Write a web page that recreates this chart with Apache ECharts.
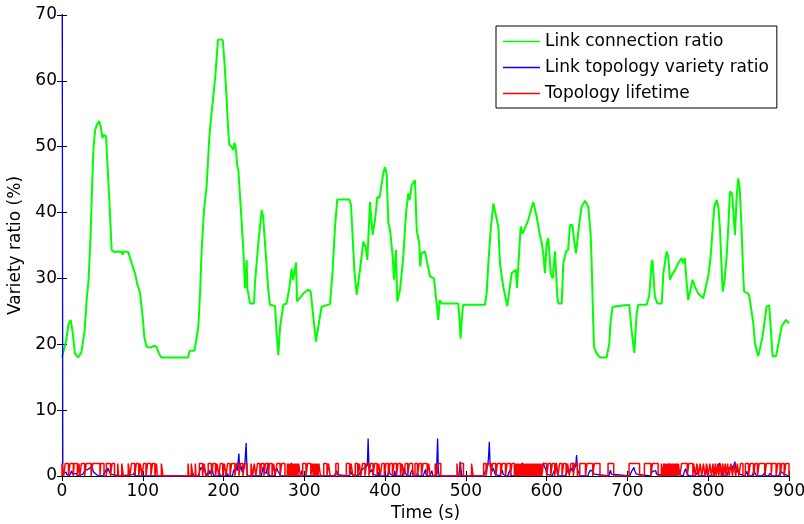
<!DOCTYPE html>
<html>
<head>
<meta charset="utf-8">
<script src="https://cdn.jsdelivr.net/npm/echarts@6/dist/echarts.min.js"></script>
<style>
  html, body { margin: 0; padding: 0; background: #fff; }
  #chart-container { width: 804px; height: 524px; }
</style>
</head>
<body>
<div id="chart-container"></div>
<script>
// [time (s), ratio (%)]
const connectionRatio = [
  [0, 18], [2, 18.2], [5, 20.5], [8, 23], [10.7, 23.7], [13, 22], [16, 18.6], [20, 18], [24, 18.8],
  [28, 22], [30.5, 26.7], [33, 30], [35.5, 36.9], [37, 43], [38.8, 49.5], [41, 52.5], [43, 53.3],
  [46, 53.9], [48, 53], [50, 51.3], [51.5, 51.8], [54.5, 51.6], [56, 48], [58.6, 41.9], [61.5, 34.3],
  [65, 34], [70, 34.1], [74, 34], [75, 33.6], [76, 34.1], [82, 34], [84, 33.8], [87, 32], [90.4, 30.8],
  [93, 29.2], [96.6, 27.8], [100, 24], [102, 21], [104.8, 19.6], [110, 19.5], [114, 19.8], [117, 19.6],
  [120, 18.6], [123, 18], [140, 18], [156, 18], [158, 19], [164, 19], [166, 20.5], [168.8, 22.7],
  [171, 28], [172.9, 34.3], [175.8, 40.4], [179, 43.9], [182.4, 51.5], [185, 55], [187.3, 57.6],
  [190, 61], [193, 66.2], [196, 66.3], [199, 66.2], [201, 63], [203.9, 57.1], [205.5, 53], [207.1, 50.3],
  [210, 50], [212, 49.5], [213.6, 50.6], [215, 50], [217, 47], [218.3, 46.5], [221.2, 40.9],
  [224.5, 34.3], [226.6, 28.5], [227.5, 30], [228.6, 32.8], [229.5, 28.5], [232.7, 26.2], [237.7, 26.2],
  [238.9, 29.3], [243, 35.3], [247.2, 40.4], [249, 39.4], [251.3, 35.3], [255.4, 28.2], [257.5, 26],
  [263.7, 25.8], [265.7, 21.7], [267.8, 18.4], [270, 22.7], [274, 26], [278, 26.2], [281.4, 28.5],
  [284.3, 31.5], [286, 29.8], [288, 31], [289.7, 32.4], [291, 26.5], [293, 26.2], [298.7, 27.7],
  [305, 28.3], [307.9, 28], [311.1, 24.2], [314.4, 20.4], [317.3, 22.7], [321.4, 25.7], [323.5, 26],
  [331.8, 26.1], [335.1, 31.3], [338, 37.9], [340.8, 42], [355.7, 42], [357.8, 41.1], [359.8, 36.3],
  [361.9, 31.3], [364.8, 27.5], [368.9, 31.3], [373, 35.6], [376, 34.8], [378, 32.8], [381.3, 41.6],
  [384.6, 36.6], [387.5, 38.9], [390.4, 42.4], [393, 42.2], [397.8, 46], [399.9, 46.9], [402, 45.8],
  [404, 38.4], [406.1, 37.4], [409.4, 33.3], [411, 29.8], [413.5, 34.3], [415, 26.5], [418.4, 28.2],
  [422.5, 33.3], [425.9, 39.9], [428.7, 42.9], [430.5, 41.9], [432.9, 44.2], [437, 44.9], [439.1, 37.4],
  [442.3, 35.3], [443.5, 31.8], [445, 33.8], [449.4, 34.1], [452.2, 32.3], [455.6, 30.3], [460.5, 30],
  [463.8, 26.2], [465.9, 23.7], [467.5, 26.7], [470, 26.2], [490.6, 26.2], [492, 24], [493.5, 20.9],
  [495, 24], [496.5, 26], [523.6, 26], [525.7, 27.7], [527.8, 32.3], [530.7, 37.4], [534, 41.4],
  [536, 41.2], [540.1, 37.9], [542.2, 32.3], [546.3, 28.7], [551.3, 25.8], [554.4, 28.7], [556.7, 30.8],
  [562, 31.3], [563.2, 28.5], [566.1, 34.3], [567.8, 37.9], [570, 36.8], [573, 37.6], [577.3, 38.9],
  [583.4, 41.6], [587.6, 39.4], [591.7, 36.5], [594, 35.3], [595.8, 33.8], [597.9, 30.8], [600, 35.3],
  [602, 36.1], [605, 30.8], [607.5, 30], [610.3, 34.1], [612, 34.1], [613.2, 27.2], [614.5, 26.2],
  [618.6, 26.2], [620.6, 32.3], [624, 34.1], [626.5, 34.3], [628.9, 38.1], [631.8, 38.1], [634, 35.8],
  [636.3, 33.8], [638, 33.8], [640.4, 38.4], [643.3, 40.9], [647.4, 41.8], [651.5, 40.9], [654.4, 36.8],
  [655.7, 32.3], [657, 26.2], [658.6, 19.6], [661.9, 18.6], [666, 18], [674.2, 18], [677.5, 20.1],
  [679, 23.2], [681.6, 25.7], [684, 26], [702.3, 26], [705.2, 22], [708.5, 18.7], [711.4, 24.7],
  [713.5, 26], [723.8, 26], [727, 27.4], [729.9, 32.3], [731, 32.8], [732, 30.8], [734, 27.2],
  [737, 26.2], [742.4, 26.2], [744.5, 30.8], [748.6, 34.1], [750.5, 33.3], [752.7, 29.8], [755, 30.5],
  [758.9, 31.3], [762.9, 32.3], [767.1, 33.1], [769, 32.3], [771, 33.1], [773.3, 29.3], [775.3, 26.7],
  [777.5, 26.5], [780.7, 29.8], [782.3, 29.5], [783.8, 28.7], [787.7, 27.7], [793.8, 27], [796, 27.2],
  [800, 30.3], [803, 33.3], [805.4, 37.4], [807.5, 40.9], [810.4, 41.9], [812.5, 40.9], [814.6, 37.4],
  [816.7, 31.3], [817.9, 28], [820, 29.5], [822.8, 33.3], [824.9, 37.9], [826.9, 43.2], [829.5, 42.9],
  [833.1, 36.6], [835.2, 42.4], [837.2, 45.2], [839, 43.7], [841.3, 37.4], [843.4, 30.3], [844.5, 28],
  [849.6, 27.7], [851, 27.2], [855.8, 23.2], [857.9, 20.1], [862, 18.2], [864, 18.2], [867.3, 21.2],
  [872.2, 25.7], [875.5, 25.9], [877, 23.2], [879.7, 18.2], [884, 18.2], [887, 20.1], [890.9, 22.7],
  [896.2, 23.7], [900, 23.2]
];

// [time (s), ratio (%)] - mostly near zero, a few spikes
const topologyVariety = [
  [0, 100], [1, 0.3], [3, 0], [5, 0.6], [6, 0.2], [8, 0.5], [9, 0], [12, 0.8], [13, 0.3], [14, 0],
  [18, 0.4], [19, 0], [26, 0.3], [28, 0.8], [30, 0.5], [32, 1.0], [34, 0.7], [35, 1.3], [36, 1.5],
  [38, 1.1], [39, 0.6], [41, 0.9], [42, 0.3], [44, 0.2], [45, 0], [51, 0], [52, 0.3], [54, 0.9],
  [55, 0.5], [57, 1.2], [58, 0.8], [60, 0.3], [61, 0], [71, 0], [72, 0.3], [73, 0], [88, 0.2],
  [90, 0.6], [91, 0], [99, 0], [100, 0.3], [101, 0], [159, 0], [160, 0.2], [162, 0.5], [163, 0],
  [169, 0], [170, 0.6], [172, 1.3], [174, 1.6], [175, 0.8], [176, 1.2], [178, 0.4], [179, 0],
  [182, 0.9], [183, 0.3], [186, 1.2], [187, 0.4], [188, 0], [194, 0], [195, 0.5], [196, 0], [204, 0],
  [205, 0.4], [206, 0], [211, 0], [212, 0.6], [213, 1.0], [214, 0.5], [216, 1.4], [217, 0.8],
  [219, 3.4], [220, 0.9], [222, 1.5], [223, 0.6], [225, 1.8], [226, 1.1], [228, 5.0], [229, 0.5],
  [230, 0], [239, 0], [240, 0.3], [241, 0], [247, 0], [248, 0.9], [249, 1.4], [250, 0.7], [252, 1.0],
  [253, 0.4], [255, 2.0], [256, 0.5], [257, 0], [263, 0], [264, 0.6], [266, 1.2], [267, 0.8],
  [269, 0.4], [270, 0], [283, 0], [284, 2.0], [285, 0.5], [287, 0], [295, 0], [296, 0.4], [297, 0.8],
  [298, 0], [337, 0], [338, 0.3], [340, 0.8], [341, 0.2], [342, 0], [355, 0], [356, 0.3], [358, 0.7],
  [359, 0.2], [360, 0], [367, 0], [368, 0.3], [370, 0.8], [372, 0.5], [374, 1.2], [376, 0.9],
  [378, 1.6], [379, 5.7], [380, 1.2], [382, 0.6], [384, 1.0], [385, 0.3], [386, 0], [391, 0],
  [392, 0.6], [393, 0], [403, 0], [404, 0.5], [405, 1.2], [406, 0.3], [407, 0], [411, 0], [412, 0.8],
  [413, 0], [421, 0], [422, 0.4], [424, 1.4], [425, 0.5], [427, 0], [431, 0], [432, 0.6], [434, 1.0],
  [435, 0], [439, 0], [440, 0.5], [441, 0], [447, 0], [448, 0.3], [450, 1.0], [451, 0], [455, 0],
  [456, 0.3], [458, 0.8], [459, 0], [462, 0], [463, 0.6], [464, 2.0], [465, 5.7], [466, 0.8],
  [467, 0], [491, 0], [492, 0.8], [493, 2.2], [494, 1.0], [495, 0], [522, 0], [523, 0.4], [525, 0.9],
  [527, 1.5], [528, 2.8], [529, 5.2], [530, 1.6], [532, 0.7], [534, 1.2], [536, 0.3], [537, 0],
  [542, 0], [543, 0.4], [545, 0.9], [546, 0.3], [548, 0.6], [549, 0], [552, 0], [553, 0.5],
  [555, 0.9], [556, 0], [562, 0], [563, 0.5], [565, 1.2], [567, 1.8], [568, 1.4], [570, 2.0],
  [571, 1.0], [573, 1.6], [575, 0.8], [577, 0.3], [578, 0], [589, 0], [590, 0.3], [592, 0.8],
  [594, 1.4], [596, 2.0], [597, 1.5], [599, 1.0], [600, 0.3], [601, 0], [607, 0], [608, 0.4],
  [610, 1.0], [612, 2.0], [613, 0.6], [614, 0], [623, 0], [624, 0.3], [626, 0.8], [628, 0.4],
  [630, 1.2], [632, 0.7], [633, 2.0], [634, 1.0], [636, 1.6], [637, 3.2], [638, 1.0], [640, 0.4],
  [641, 0], [651, 0], [652, 0.4], [654, 0.9], [656, 1.2], [657, 0.7], [659, 0.3], [660, 0], [677, 0],
  [678, 0.5], [679, 0.9], [680, 0.3], [681, 0], [703, 0], [704, 0.4], [706, 0.9], [708, 1.3],
  [709, 0.8], [711, 0.3], [712, 0], [728, 0], [729, 0.3], [731, 0.7], [733, 0.4], [735, 0.8],
  [736, 0.3], [737, 0], [747, 0], [748, 0.6], [750, 1.0], [751, 0.4], [752, 1.9], [753, 0.5],
  [754, 0], [759, 0], [760, 0.4], [762, 0.9], [763, 0.3], [764, 0], [769, 0], [770, 0.5], [772, 1.1],
  [773, 0.6], [775, 0.9], [776, 0], [784, 0], [785, 0.3], [787, 0.7], [788, 0], [795, 0], [796, 0.4],
  [798, 0.8], [799, 0], [807, 0], [808, 0.3], [810, 0.8], [812, 1.2], [814, 2.0], [815, 1.4],
  [817, 0.8], [818, 0], [823, 0], [824, 0.4], [826, 1.2], [828, 1.0], [830, 1.5], [831, 0.8],
  [833, 2.2], [834, 1.3], [836, 0.6], [838, 1.0], [839, 0.3], [840, 0], [845, 0], [846, 0.3],
  [848, 0.7], [849, 0], [854, 0], [855, 0.3], [857, 0.8], [858, 0.4], [860, 0], [867, 0], [868, 0.3],
  [870, 0.5], [871, 0], [875, 0], [876, 0.4], [878, 0.6], [879, 0], [887, 0], [888, 0.3], [890, 0.7],
  [892, 0.9], [894, 0.3], [895, 0], [900, 0]
];

// [start, end] (s) of each "high" stretch of the topology lifetime trace
const lifetimePulses = [
  [0, 2], [4, 8], [10, 14], [15, 19], [21, 22], [24, 28], [30, 36], [38, 47], [48, 52], [55, 60],
  [62, 65], [69, 70], [74, 76], [82, 84], [86, 90], [92, 95], [97, 99], [101, 104], [106, 110],
  [112, 115], [117, 118], [123, 125], [156, 157], [160, 162], [165, 166], [170, 174], [176, 178],
  [181, 185], [187, 190], [192, 194], [196, 199], [201, 203], [205, 208], [210, 214], [216, 219],
  [221, 224], [226, 229], [234, 236], [238, 240], [242, 245], [247, 250], [252, 255], [257, 260],
  [262, 264], [266, 270], [272, 276], [279, 280], [281, 282], [283, 284], [285, 286], [287, 288],
  [289, 290], [291, 292], [293, 295], [298, 302], [304, 308], [310, 311], [312, 313], [314, 315],
  [316, 317], [318, 320], [324, 328], [330, 332], [339, 342], [352, 356], [358, 360], [363, 366],
  [368, 370], [372, 375], [377, 380], [382, 385], [387, 390], [392, 394], [396, 399], [401, 404],
  [406, 409], [411, 414], [416, 419], [421, 423], [425, 428], [430, 434], [437, 440], [442, 445],
  [447, 452], [454, 456], [462, 464], [466, 469], [489, 490], [493, 497], [507, 509], [522, 525],
  [527, 531], [533, 537], [539, 543], [545, 549], [551, 555], [557, 560], [561, 562], [563, 564],
  [565, 566], [567, 568], [569, 570], [571, 572], [573, 574], [575, 576], [577, 578], [579, 580],
  [581, 582], [583, 584], [585, 586], [587, 588], [589, 590], [591, 592], [593, 594], [596, 600],
  [602, 605], [607, 610], [612, 614], [616, 619], [621, 624], [626, 628], [630, 633], [635, 638],
  [641, 648], [650, 657], [659, 666], [676, 683], [702, 715], [721, 729], [731, 738], [742, 744],
  [745, 746], [747, 748], [749, 750], [751, 752], [753, 754], [755, 756], [757, 758], [759, 760],
  [761, 762], [763, 765], [767, 774], [776, 781], [782, 784], [786, 788], [790, 792], [794, 796],
  [798, 800], [802, 804], [806, 807], [809, 810], [812, 813], [815, 816], [818, 819], [821, 822],
  [824, 826], [828, 830], [832, 834], [836, 838], [840, 843], [846, 850], [852, 856], [858, 861],
  [863, 870], [872, 878], [879, 884], [886, 889], [891, 894], [896, 900]
];
const lifetimeLevel = 1.9;

const seriesNames = ['Link connection ratio', 'Link topology variety ratio', 'Topology lifetime'];
const xTicks = { min: 0, max: 900, interval: 100 };
const yTicks = { min: 0, max: 70, interval: 10 };

// square wave built from the pulse list
const lifetimeData = [[0, 0]];
for (const [s, e] of lifetimePulses) {
  lifetimeData.push([s, 0], [s, lifetimeLevel], [e, lifetimeLevel], [e, 0]);
}
lifetimeData.push([900, 0]);

const FONT = 'DejaVu Sans';

const dom = document.getElementById('chart-container');
const myChart = echarts.init(dom, null, { renderer: 'canvas' });

const frameAxis = (extra) => ({
  type: 'value',
  axisLine: { show: true, lineStyle: { color: '#000', width: 1 } },
  axisTick: { show: true, inside: true, length: 5, lineStyle: { color: '#000' } },
  splitLine: { show: false },
  ...extra,
});

const option = {
  animation: false,
  backgroundColor: '#fff',
  textStyle: { fontFamily: FONT },
  grid: { left: 62, right: 15, top: 15, bottom: 48, containLabel: false, outerBoundsMode: 'none' },
  legend: {
    orient: 'vertical',
    left: 496,
    top: 26,
    padding: [7, 8, 6, 7],
    backgroundColor: '#fff',
    borderColor: '#000',
    borderWidth: 1,
    borderRadius: 0,
    itemGap: 9,
    itemWidth: 37,
    itemHeight: 1.5,
    icon: 'rect',
    textStyle: { fontFamily: FONT, fontSize: 17, color: '#000', lineHeight: 17 },
    data: seriesNames,
  },
  xAxis: [
    frameAxis({
      ...xTicks,
      position: 'bottom',
      name: 'Time (s)',
      nameLocation: 'middle',
      nameGap: 25,
      nameTextStyle: { fontFamily: FONT, fontSize: 17, color: '#000' },
      axisLabel: { fontFamily: FONT, fontSize: 17, color: '#000', margin: 7 },
    }),
    frameAxis({ ...xTicks, position: 'top', axisLabel: { show: false } }),
  ],
  yAxis: [
    frameAxis({
      ...yTicks,
      position: 'left',
      name: 'Variety ratio (%)',
      nameLocation: 'middle',
      nameGap: 32,
      nameTextStyle: { fontFamily: FONT, fontSize: 17, color: '#000' },
      axisLabel: { fontFamily: FONT, fontSize: 17, color: '#000', margin: 5 },
    }),
    frameAxis({ ...yTicks, position: 'right', axisLabel: { show: false } }),
  ],
  series: [
    {
      name: seriesNames[0],
      type: 'line',
      color: '#00ff00',
      showSymbol: false,
      lineStyle: { width: 2 },
      data: connectionRatio,
    },
    {
      name: seriesNames[1],
      type: 'line',
      color: '#0000ff',
      showSymbol: false,
      lineStyle: { width: 1.3 },
      data: topologyVariety,
    },
    {
      name: seriesNames[2],
      type: 'line',
      color: '#ff0000',
      showSymbol: false,
      lineStyle: { width: 1.5 },
      data: lifetimeData,
    },
  ],
};

myChart.setOption(option);
window.addEventListener('resize', myChart.resize);
</script>
</body>
</html>
